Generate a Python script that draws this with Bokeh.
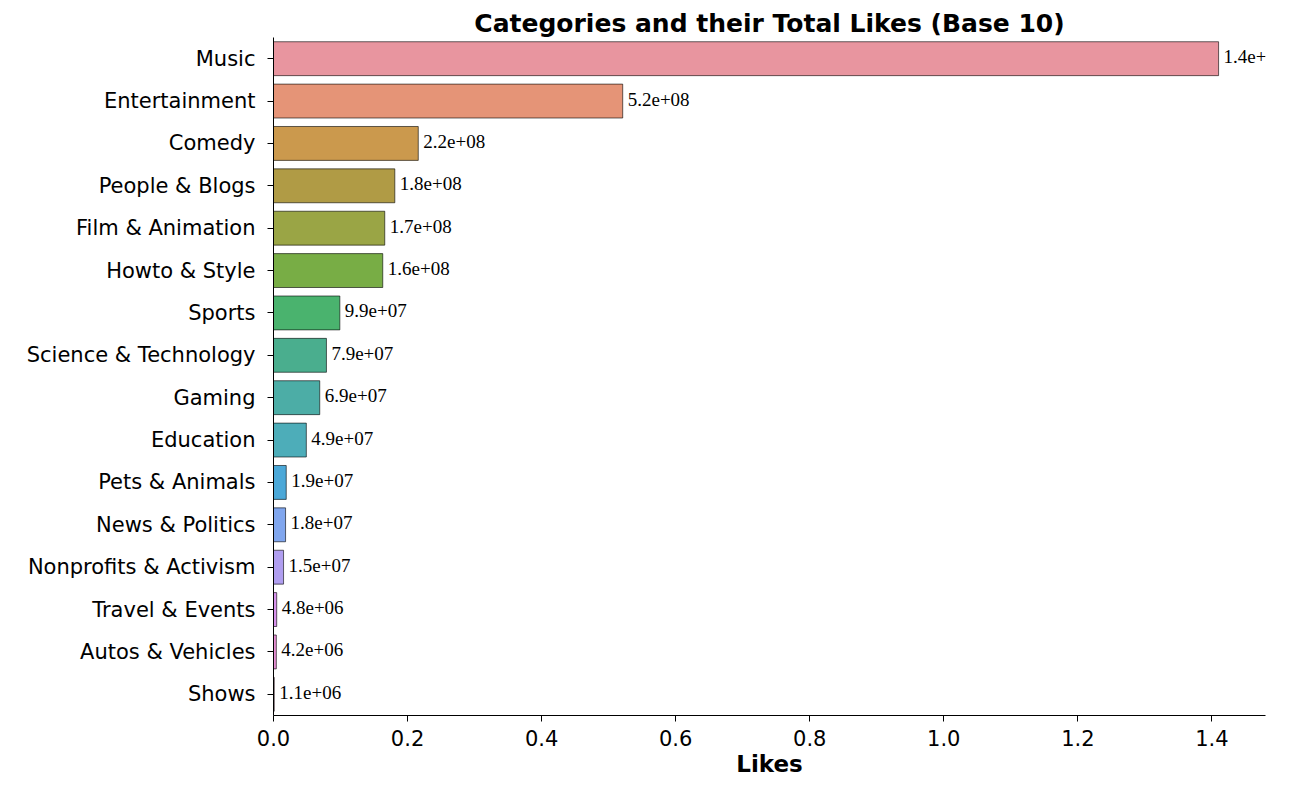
from bokeh.plotting import figure
from bokeh.models import FactorRange, Range1d, FixedTicker, CustomJSTickFormatter, Label, LabelSet, ColumnDataSource
from bokeh.embed import file_html
from bokeh.resources import INLINE

categories = ["Music", "Entertainment", "Comedy", "People & Blogs", "Film & Animation",
              "Howto & Style", "Sports", "Science & Technology", "Gaming", "Education",
              "Pets & Animals", "News & Politics", "Nonprofits & Activism", "Travel & Events",
              "Autos & Vehicles", "Shows"]
likes = [1.41e9, 5.21e8, 2.16e8, 1.81e8, 1.66e8, 1.63e8, 9.9e7, 7.9e7, 6.9e7, 4.9e7,
         1.9e7, 1.8e7, 1.5e7, 4.8e6, 4.2e6, 1.1e6]
colors = ["#e8959f", "#e59477", "#cb994d", "#b09b45", "#9aa545", "#78ad45", "#4ab36e",
          "#4aae8e", "#4cada6", "#4dadb9", "#4ba8d8", "#80a6ee", "#b09ef0", "#d792ec",
          "#e78fd5", "#e890b6"]
labels = ["%.1e" % v for v in likes]
ticks = [0, 2e8, 4e8, 6e8, 8e8, 1e9, 1.2e9, 1.4e9]

FONT = "DejaVu Sans"
src = ColumnDataSource(dict(cat=categories, likes=likes, color=colors, label=labels))

p = figure(width=1300, height=779, output_backend="svg", toolbar_location=None,
           y_range=FactorRange(factors=categories[::-1]), x_range=Range1d(0, 1.48e9),
           min_border_left=273, min_border_top=37, min_border_bottom=64, min_border_right=35,
           title="Categories and their Total Likes (Base 10)")
p.title.text_font = FONT
p.title.text_font_size = "25px"
p.title.text_font_style = "bold"
p.title.text_color = "black"
p.title.align = "center"
p.title.standoff = 0

p.hbar(y="cat", right="likes", height=0.8, fill_color="color", line_color="black",
       line_width=0.6, source=src)
p.add_layout(LabelSet(x="likes", y="cat", text="label", x_offset=5, y_offset=2,
                      text_baseline="middle", text_font=FONT, text_font_size="19px",
                      text_color="black", source=src, level="overlay"))

p.xgrid.visible = False
p.ygrid.visible = False
p.outline_line_color = None
p.xaxis.ticker = FixedTicker(ticks=ticks)
p.xaxis.formatter = CustomJSTickFormatter(code="return (tick/1e9).toFixed(1);")
p.xaxis.axis_label = "Likes"
p.xaxis.axis_label_text_font = FONT
p.xaxis.axis_label_text_font_style = "bold"
p.xaxis.axis_label_text_font_size = "23px"
p.xaxis.axis_label_text_color = "black"
p.xaxis.axis_label_standoff = 2
p.xaxis.major_label_standoff = 8
p.yaxis.major_label_standoff = 12
for ax in (p.xaxis, p.yaxis):
    ax.major_label_text_font = FONT
    ax.major_label_text_font_size = "21px"
    ax.major_label_text_color = "black"
    ax.minor_tick_line_color = None
    ax.major_tick_out = 6
    ax.major_tick_in = 0
    ax.axis_line_color = "black"

p.add_layout(Label(x=1.48e9, y=-1.3, text="1e9", text_align="right", text_baseline="middle",
                   text_font=FONT, text_font_size="21px", text_color="black", level="overlay"))

open("out.html", "w").write(file_html(p, INLINE))
